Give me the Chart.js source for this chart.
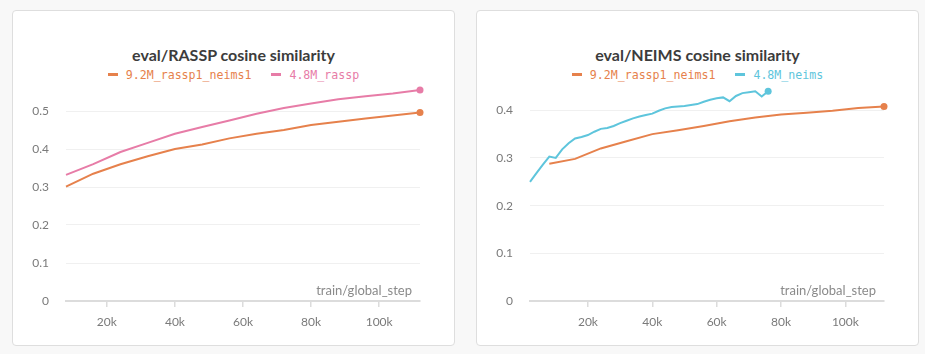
<!DOCTYPE html>
<html>
<head>
<meta charset="utf-8">
<script src="https://cdn.jsdelivr.net/npm/chart.js@4/dist/chart.umd.min.js"></script>
<style>
  html, body { margin: 0; padding: 0; background: #f8f8f8; }
  body { width: 925px; height: 354px; position: relative; overflow: hidden; font-family: Lato, "Noto Sans", sans-serif; }
  .card { position: absolute; top: 10px; width: 443px; height: 336px; background: #fff; border: 1px solid #dedede; border-radius: 4px; box-sizing: border-box; }
  .title { position: absolute; left: 0; right: 0; top: 34px; text-align: center; font-size: 16px; font-weight: 700; color: #3c3c3c; }
  .legend { position: absolute; left: 0; right: 0; top: 57px; text-align: center; font-family: "DejaVu Sans Mono", monospace; font-size: 11.6px; }
  .legend span { margin: 0 10px; }
  .legend i { display: inline-block; width: 10px; height: 2.5px; margin-right: 8px; vertical-align: middle; position: relative; top: -1px; }
  canvas { position: absolute; left: 0; }
</style>
</head>
<body>
<div class="card" style="left:12px">
  <div class="title">eval/RASSP cosine similarity</div>
  <div class="legend" id="leg1"></div>
  <canvas id="chart1" width="441" height="282" style="top:53px"></canvas>
</div>
<div class="card" style="left:476px">
  <div class="title">eval/NEIMS cosine similarity</div>
  <div class="legend" id="leg2"></div>
  <canvas id="chart2" width="441" height="279" style="top:56px"></canvas>
</div>
<script>
const orange = '#e6814c';
const pink = '#e77ca7';
const cyan = '#5ec5dc';

// left panel: eval/RASSP
const rasspSteps = [8000, 16000, 24000, 32000, 40000, 48000, 56000, 64000, 72000, 80000, 88000, 96000, 104000, 112000];
const rassp92M = [0.301, 0.335, 0.360, 0.381, 0.400, 0.412, 0.428, 0.440, 0.450, 0.463, 0.472, 0.480, 0.488, 0.496];
const rassp48M = [0.332, 0.360, 0.392, 0.416, 0.440, 0.458, 0.475, 0.493, 0.508, 0.520, 0.531, 0.539, 0.546, 0.555];

// right panel: eval/NEIMS
const neimsSteps92M = [8000, 16000, 24000, 32000, 40000, 48000, 56000, 64000, 72000, 80000, 88000, 96000, 104000, 112000];
const neims92M = [0.288, 0.298, 0.320, 0.335, 0.350, 0.358, 0.367, 0.377, 0.385, 0.391, 0.395, 0.399, 0.405, 0.408];
const neimsSteps48M = [2000, 4000, 6000, 8000, 10000, 12000, 14000, 16000, 18000, 20000, 22000, 24000, 26000, 28000, 30000,
  32000, 34000, 36000, 38000, 40000, 42000, 44000, 46000, 48000, 50000, 52000, 54000, 56000, 58000, 60000,
  62000, 64000, 66000, 68000, 70000, 72000, 74000, 76000];
const neims48M = [0.250, 0.268, 0.286, 0.303, 0.300, 0.318, 0.331, 0.341, 0.344, 0.348, 0.355, 0.361, 0.363, 0.367, 0.373,
  0.378, 0.383, 0.387, 0.390, 0.393, 0.399, 0.404, 0.407, 0.408, 0.409, 0.411, 0.413, 0.418, 0.422, 0.425,
  0.427, 0.419, 0.430, 0.436, 0.438, 0.440, 0.429, 0.440];

const xTicks = [20000, 40000, 60000, 80000, 100000];
const yTicks = [0, 0.1, 0.2, 0.3, 0.4, 0.5];

function pairs(xs, ys) {
  return xs.map((x, i) => ({ x: x, y: ys[i] }));
}

function series(label, xs, ys, color) {
  return {
    label: label,
    data: pairs(xs, ys),
    borderColor: color,
    backgroundColor: color,
    borderWidth: 2,
    tension: 0,
    clip: false,
    pointRadius: ctx => ctx.dataIndex === ys.length - 1 ? 3.5 : 0,
    pointBorderWidth: 0,
    pointHoverRadius: 0
  };
}

function legend(id, items) {
  document.getElementById(id).innerHTML = items.map(it =>
    '<span style="color:' + it[1] + '"><i style="background:' + it[1] + '"></i>' + it[0] + '</span>').join('');
}

const stepLabel = {
  id: 'stepLabel',
  afterDraw(chart) {
    const c = chart.ctx, a = chart.chartArea;
    c.save();
    c.font = '13px Lato, "Noto Sans", sans-serif';
    c.fillStyle = '#8a8a8a';
    c.textAlign = 'right';
    c.textBaseline = 'alphabetic';
    c.fillText('train/global_step', a.right - 8, a.bottom - 6);
    c.restore();
  }
};

function makeChart(id, datasets, xmin, ymax) {
  new Chart(document.getElementById(id), {
    type: 'line',
    data: { datasets: datasets },
    options: {
      responsive: false,
      animation: false,
      layout: { autoPadding: false, padding: { left: 0, right: 34, top: 7, bottom: 10 } },
      plugins: { legend: { display: false }, title: { display: false }, tooltip: { enabled: false } },
      scales: {
        x: {
          type: 'linear',
          min: xmin,
          max: 112000,
          afterFit: s => { s.height = 35; },
          afterBuildTicks: s => { s.ticks = xTicks.map(v => ({ value: v })); },
          grid: { drawOnChartArea: false, drawTicks: true, tickLength: 6, color: '#dcdcdc', lineWidth: 1.5 },
          border: { color: '#dcdcdc', width: 2 },
          ticks: { color: '#7a7a7a', font: { size: 12, family: 'Lato' }, padding: 8, maxRotation: 0,
                   callback: v => (v / 1000) + 'k' }
        },
        y: {
          min: 0,
          max: ymax,
          afterFit: s => { s.width = 53; },
          afterBuildTicks: s => { s.ticks = yTicks.filter(v => v <= ymax).map(v => ({ value: v })); },
          grid: { color: '#f0f0f0', drawTicks: false },
          border: { display: false },
          ticks: { color: '#7a7a7a', font: { size: 12, family: 'Lato' }, padding: 17,
                   callback: v => v === 0 ? '0' : v.toFixed(1) }
        }
      }
    },
    plugins: [stepLabel]
  });
}

legend('leg1', [['9.2M_rassp1_neims1', orange], ['4.8M_rassp', pink]]);
legend('leg2', [['9.2M_rassp1_neims1', orange], ['4.8M_neims', cyan]]);

makeChart('chart1', [
  series('9.2M_rassp1_neims1', rasspSteps, rassp92M, orange),
  series('4.8M_rassp', rasspSteps, rassp48M, pink)
], 8000, 0.56);

makeChart('chart2', [
  series('9.2M_rassp1_neims1', neimsSteps92M, neims92M, orange),
  series('4.8M_neims', neimsSteps48M, neims48M, cyan)
], 2000, 0.44);
</script>
</body>
</html>
